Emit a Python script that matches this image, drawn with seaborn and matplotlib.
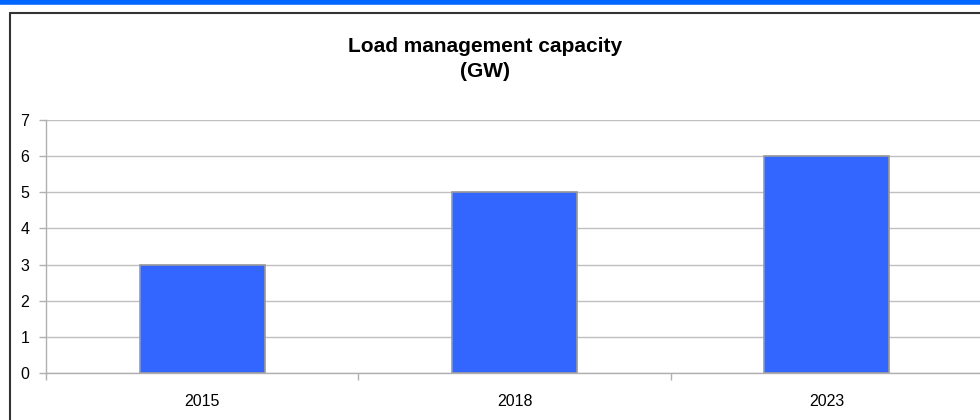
import matplotlib
matplotlib.use("Agg")
import matplotlib.pyplot as plt
import seaborn as sns
import pandas as pd
from matplotlib.lines import Line2D
from matplotlib.ticker import FixedLocator

years = ["2015", "2018", "2023"]
capacity = [3, 5, 6]
yticks = [0, 1, 2, 3, 4, 5, 6, 7]
title = "Load management capacity\n(GW)"

sns.set_theme(style="white")
plt.rcParams['font.family'] = ['Liberation Sans', 'DejaVu Sans']

df = pd.DataFrame({"year": years, "capacity": capacity})

fig = plt.figure(figsize=(9.8, 4.2), dpi=100)
ax = fig.add_axes([46/980, 1 - 373/420, (983 - 46)/980, (373 - 120)/420])

sns.barplot(data=df, x="year", y="capacity", order=years, color="#3366FF",
            saturation=1, width=0.4, edgecolor="#999999", linewidth=1.2, ax=ax)

ax.set_xlim(-0.5, 2.5)
ax.set_ylim(0, 7)
ax.set_yticks(yticks)
ax.yaxis.grid(True, color="#c0c0c0", linewidth=1)
ax.set_axisbelow(True)
ax.set_xlabel("")
ax.set_ylabel("")

for s in ["top", "right"]:
    ax.spines[s].set_visible(False)
for s in ["left", "bottom"]:
    ax.spines[s].set_color("#b0b0b0")
    ax.spines[s].set_linewidth(1)

ax.xaxis.set_minor_locator(FixedLocator([-0.5, 0.5, 1.5, 2.5]))
ax.tick_params(axis="x", which="major", length=0, labelsize=11.5, pad=15, labelcolor="black")
ax.tick_params(axis="x", which="minor", bottom=True, length=5, width=1, color="#b0b0b0")
ax.tick_params(axis="y", which="major", left=True, length=5, width=1, color="#b0b0b0",
               labelsize=11.5, pad=7, labelcolor="black")

fig.text(485/980, 1 - 59/420, title, ha="center", va="center", color="black",
         fontsize=15, fontweight="bold", linespacing=1.45)

# outer frame and top band
fig.add_artist(Line2D([0, 1], [1 - 2/420, 1 - 2/420], transform=fig.transFigure,
                      color="#0066FF", linewidth=4))
fig.add_artist(Line2D([9.5/980, 9.5/980], [0, 1 - 13/420], transform=fig.transFigure,
                      color="#333333", linewidth=1.5))
fig.add_artist(Line2D([9.5/980, 1], [1 - 13/420, 1 - 13/420], transform=fig.transFigure,
                      color="#333333", linewidth=1.5))

fig.savefig("out.png", dpi=100)
